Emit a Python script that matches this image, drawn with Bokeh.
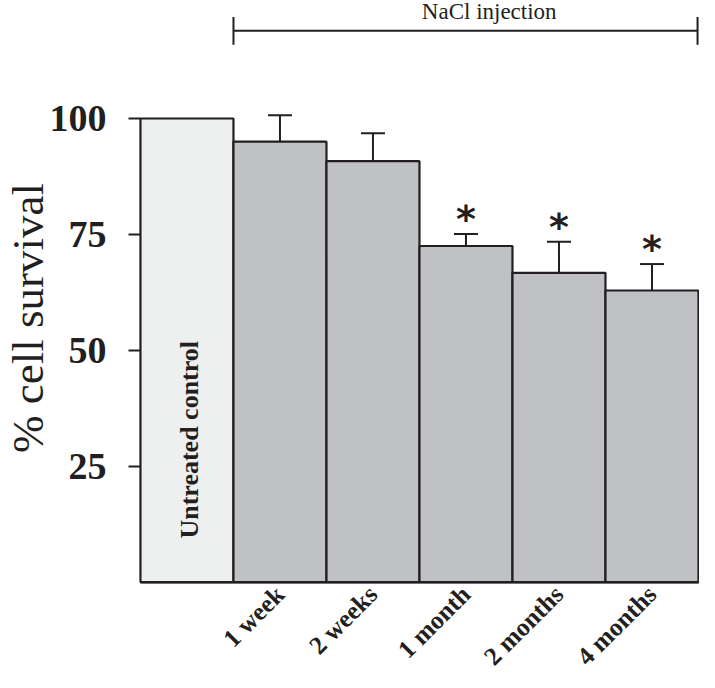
import math
from bokeh.plotting import figure
from bokeh.models import ColumnDataSource, Whisker, FixedTicker, Range1d
from bokeh.core.properties import value
from bokeh.embed import file_html
from bokeh.resources import INLINE

# ---- data ----
categories = ["Untreated control", "1 week", "2 weeks", "1 month", "2 months", "4 months"]
survival = [100.0, 95.0, 90.8, 72.5, 66.7, 62.9]
error_up = [0.0, 5.7, 6.0, 2.6, 6.7, 5.7]
significant = [False, False, False, True, True, True]
y_ticks = [25, 50, 75, 100]
bracket_label = "NaCl injection"

SERIF = "Liberation Serif"
INK = "#231f20"

xs = list(range(len(categories)))
colors = ["#eeefef"] + ["#c0c1c4"] * (len(categories) - 1)
x_left = -0.5
x_right = len(categories) - 0.5

p = figure(width=699, height=672, output_backend="svg", toolbar_location=None,
           x_range=Range1d(-2.005, 5.511), y_range=Range1d(-19.5, 125.45),
           min_border_left=0, min_border_right=0, min_border_top=0, min_border_bottom=0)
p.outline_line_color = None
p.xgrid.grid_line_color = None
p.ygrid.grid_line_color = None
p.background_fill_color = "white"
p.border_fill_color = "white"

src = ColumnDataSource(dict(x=xs, top=survival, color=colors))
p.vbar(x="x", top="top", width=1.0, bottom=0, fill_color="color", line_color=INK, line_width=2.2, source=src)

# error bars (upward only) for treated groups
err_src = ColumnDataSource(dict(x=xs[1:], lower=survival[1:],
                                upper=[s + e for s, e in zip(survival[1:], error_up[1:])]))
w = Whisker(base="x", lower="lower", upper="upper", source=err_src, line_color=INK, line_width=2,
            lower_head=None)
w.upper_head.size = 24
w.upper_head.line_color = INK
w.upper_head.line_width = 2
p.add_layout(w)

# significance stars
sx = [x for x, s in zip(xs, significant) if s]
sy = [survival[i] + error_up[i] + 3.2 for i in range(len(xs)) if significant[i]]
p.text(x=sx, y=sy, text=["*"] * len(sx), text_font=value("DejaVu Sans"), text_font_style="bold",
       text_font_size="38px", text_align="center", text_baseline="middle", text_color=INK)

# Untreated control label inside bar
p.text(x=[0.03], y=[30.7], text=[categories[0]], angle=math.pi / 2, text_font=value(SERIF),
       text_font_style="bold", text_font_size="26px", text_align="center", text_baseline="middle",
       text_color=INK)

# NaCl injection bracket
by = 118.9
xb0 = 0.5
xb1 = x_right - 0.01
p.segment(x0=[xb0], y0=[by], x1=[xb1], y1=[by], line_color=INK, line_width=2)
p.segment(x0=[xb0, xb1], y0=[by - 3, by - 3], x1=[xb0, xb1], y1=[by + 3, by + 3], line_color=INK, line_width=2)
p.text(x=[3.25], y=[123.1], text=[bracket_label], text_font=value(SERIF),
       text_font_size="23px", text_align="center", text_baseline="alphabetic", text_color=INK)

# axes (fixed at the data origin so that the frame keeps the reference proportions)
ya = p.yaxis[0]
ya.fixed_location = x_left
ya.ticker = FixedTicker(ticks=y_ticks)
ya.bounds = (0, 114)          # label centred like the reference; visible edge drawn by the control bar
ya.axis_line_color = None
ya.axis_label = "% cell survival"
ya.axis_label_text_font = SERIF
ya.axis_label_text_font_style = "normal"
ya.axis_label_text_font_size = "45px"
ya.axis_label_text_color = INK
ya.axis_label_standoff = -6
ya.major_label_text_font = SERIF
ya.major_label_text_font_style = "bold"
ya.major_label_text_font_size = "38px"
ya.major_label_text_color = INK
ya.major_label_standoff = 22
ya.major_tick_out = 12
ya.major_tick_in = 0
ya.minor_tick_line_color = None
ya.major_tick_line_width = 2
ya.major_tick_line_color = INK

xa = p.xaxis[0]
xa.fixed_location = 0
xa.bounds = (x_left, x_right)
xa.ticker = FixedTicker(ticks=xs[1:])
xa.major_label_overrides = {i: categories[i] for i in xs[1:]}
xa.major_label_orientation = math.pi / 4
xa.major_label_text_font = SERIF
xa.major_label_text_font_style = "bold"
xa.major_label_text_font_size = "25.5px"
xa.major_label_text_color = INK
xa.major_label_standoff = 8
xa.major_tick_out = 0
xa.major_tick_in = 0
xa.major_tick_line_color = None
xa.minor_tick_line_color = None
xa.axis_line_width = 2.2
xa.axis_line_color = INK

open("out.html", "w").write(file_html(p, INLINE))
